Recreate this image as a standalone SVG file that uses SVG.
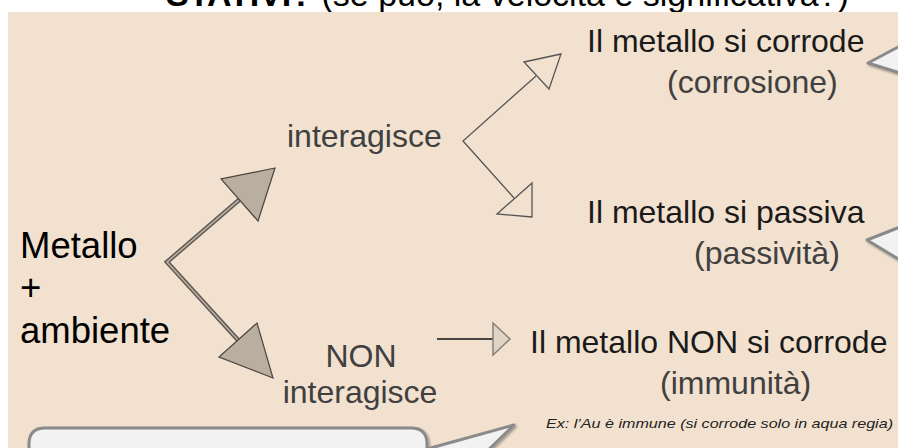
<svg xmlns="http://www.w3.org/2000/svg" width="898" height="448" viewBox="0 0 898 448">
<defs>
<style>
.t{font-family:"Liberation Sans",Arial,sans-serif;font-size:32px;fill:#1a1a1a}
.g{fill:#404040}
.big{font-size:36.5px;fill:#000}
.co{fill:#f2f2f2;stroke:#8a8a8a;stroke-width:3;stroke-linejoin:round}
.head{fill:#b9ae9f;stroke:#4a4540;stroke-width:1.2;stroke-linejoin:miter}
.thin{fill:none;stroke:#555;stroke-width:1.3}
.hollow{fill:#f2e1cf;stroke:#555;stroke-width:1.3}
</style>
<filter id="sh" x="-20%" y="-20%" width="140%" height="140%">
<feDropShadow dx="1.5" dy="1.5" stdDeviation="1" flood-color="#000" flood-opacity="0.35"/>
</filter>
</defs>
<rect width="898" height="448" fill="#ffffff"/>
<text x="166" y="6" class="t" style="font-size:34px;fill:#000"><tspan font-weight="bold">STATIVI?</tspan> (se può, la velocità è significativa?)</text>
<rect x="8" y="12" width="890" height="436" fill="#f2e1cf"/>

<g id="callouts" filter="url(#sh)">
<path class="co" d="M900 46 L868 63 L900 73 Z"/>
<path class="co" d="M900 227 L867 240 L900 260 Z"/>
<path class="co" d="M29 460 L29 444 Q29 428 45 428 L411 428 Q427 428 427 444 L427 449 L514 425 L478 460 Z"/>
</g>

<g id="connectors">
<polyline points="239,200 167,262 238,340" fill="none" stroke="#5a5550" stroke-width="4.5" stroke-linejoin="miter"/>
<polyline points="239,200 167,262 238,340" fill="none" stroke="#b5aa9b" stroke-width="1.8" stroke-linejoin="miter"/>
<polygon class="head" points="275,168 221,179 258,221"/>
<polygon class="head" points="273,378 219,357 257,323"/>
<polyline class="thin" points="536,76 463,141 514,198"/>
<polygon class="hollow" points="561,54 524,62 549,89"/>
<polygon class="hollow" points="532,217 497,214 532,183"/>
<line x1="437" y1="339" x2="493" y2="339" stroke="#111" stroke-width="1.5"/>
<polygon points="493,323 510,339 493,355" fill="#e0d4c4" stroke="#8a8078" stroke-width="1.5"/>
</g>

<g id="metallo">
<text class="t big" x="20" y="258">Metallo</text>
<text class="t big" x="20" y="300">+</text>
<text class="t big" x="20" y="343">ambiente</text>
</g>
<g id="interagisce">
<text class="t g" x="287" y="147">interagisce</text>
</g>
<g id="non-interagisce">
<text class="t g" x="361" y="367" text-anchor="middle">NON</text>
<text class="t g" x="360" y="403" text-anchor="middle">interagisce</text>
</g>
<g id="corrosione">
<text class="t" x="587" y="52">Il metallo si corrode</text>
<text class="t g" x="667" y="93">(corrosione)</text>
</g>
<g id="passivita">
<text class="t" x="587" y="223">Il metallo si passiva</text>
<text class="t g" x="694" y="264">(passività)</text>
</g>
<g id="immunita">
<text class="t" x="530" y="353">Il metallo NON si corrode</text>
<text class="t g" x="660" y="394">(immunità)</text>
<text x="546" y="428" textLength="347" lengthAdjust="spacingAndGlyphs" style="font-family:'Liberation Sans',Arial,sans-serif;font-size:13px;font-style:italic;fill:#222">Ex: l’Au è immune (si corrode solo in aqua regia)</text>
</g>
</svg>
